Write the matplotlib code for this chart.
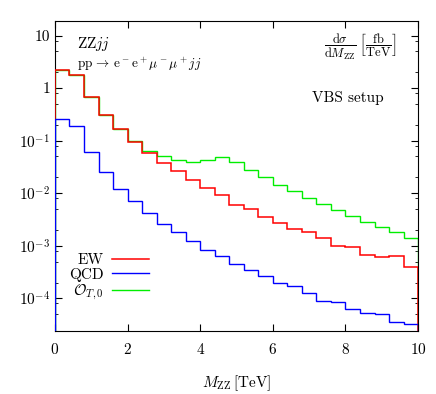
import numpy as np
import matplotlib.pyplot as plt
from matplotlib.ticker import LogLocator, NullFormatter

plt.rcParams['font.family'] = 'serif'
plt.rcParams['font.serif'] = ['cmr10']
plt.rcParams['mathtext.fontset'] = 'cm'
plt.rcParams['axes.formatter.use_mathtext'] = True

# bin edges in TeV (0.4 TeV bins)
edges = np.linspace(0, 10, 26)

# dsigma/dM_ZZ [fb/TeV]
ew = [2.2, 1.78, 0.67, 0.31, 0.165, 0.094, 0.059, 0.038, 0.026, 0.018,
      0.0124, 0.0093, 0.0061, 0.0051, 0.0036, 0.0027, 0.0021, 0.0018,
      0.0014, 0.00099, 0.00093, 0.00068, 0.00060, 0.00064, 0.00039]
qcd = [0.26, 0.19, 0.060, 0.025, 0.0123, 0.0070, 0.0043, 0.0026, 0.0018,
       0.00123, 0.00083, 0.00063, 0.00046, 0.00035, 0.00027, 0.00020,
       0.000175, 0.000126, 0.000091, 0.000087, 0.000062, 0.000052,
       0.000050, 0.000036, 0.000033]
ot0 = [2.2, 1.78, 0.67, 0.31, 0.17, 0.098, 0.065, 0.050, 0.042, 0.040,
       0.042, 0.048, 0.039, 0.028, 0.020, 0.0145, 0.011, 0.0081, 0.0062,
       0.0047, 0.0037, 0.0029, 0.0023, 0.0018, 0.0014]

fig = plt.figure(figsize=(4.36, 3.94), dpi=100)
ax = fig.add_axes([0.126, 0.160, 0.833, 0.787])

base = 1e-6
ax.stairs(ot0, edges, baseline=base, color='#00ee00', lw=1.0, label=r'$\mathcal{O}_{T,0}$', zorder=2)
ax.stairs(ew, edges, baseline=base, color='#ff0000', lw=1.1, label='EW', zorder=3)
ax.stairs(qcd, edges, baseline=base, color='#0000ff', lw=1.0, label='QCD', zorder=3)

ax.set_yscale('log')
ax.set_xlim(0, 10)
ax.set_ylim(2.4e-5, 19)
ax.set_xticks([0, 2, 4, 6, 8, 10])
ax.set_yticks([1e-4, 1e-3, 1e-2, 1e-1, 1, 10])
ax.set_yticklabels([r'$10^{-4}$', r'$10^{-3}$', r'$10^{-2}$', r'$10^{-1}$', '1', '10'])
ax.yaxis.set_minor_locator(LogLocator(base=10, subs=(2, 5, 8)))
ax.yaxis.set_minor_formatter(NullFormatter())
ax.tick_params(which='both', direction='in', top=True, right=True, labelsize=11)
ax.tick_params(which='major', length=5)
ax.tick_params(which='minor', length=2.5)
ax.set_xlabel(r'$M_{\rm ZZ}\,$[TeV]', fontsize=11, labelpad=12)
ax.tick_params(axis='x', pad=8)

ax.text(0.06, 0.955, r'ZZ$jj$', transform=ax.transAxes, fontsize=11, va='top')
ax.text(0.06, 0.89, r'pp$\,\rightarrow\,$e$^-$e$^+\mu^-\mu^+jj$', transform=ax.transAxes,
        fontsize=9.5, va='top')
ax.text(0.94, 0.965, r'$\dfrac{\mathrm{d}\sigma}{\mathrm{d}M_{\rm ZZ}}\ \left[\dfrac{\rm fb}{\rm TeV}\right]$',
        transform=ax.transAxes, fontsize=9, va='top', ha='right')
ax.text(0.905, 0.75, 'VBS setup', transform=ax.transAxes, fontsize=11, va='center', ha='right')

h, l = ax.get_legend_handles_labels()
order = [1, 2, 0]
ax.legend([h[i] for i in order], [l[i] for i in order], loc='lower left',
          bbox_to_anchor=(0.0, 0.05), frameon=False, markerfirst=False,
          fontsize=11, handlelength=2.4, handletextpad=0.6, labelspacing=0.05)

fig.savefig('out.png', dpi=100)
